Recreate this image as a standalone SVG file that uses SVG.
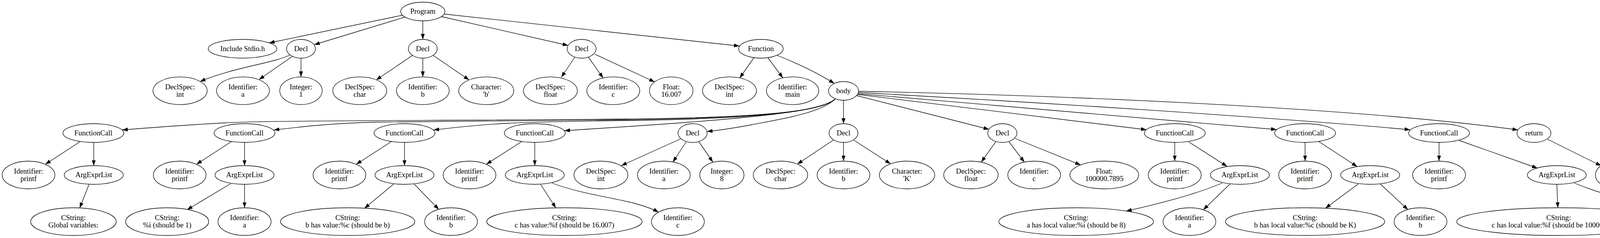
<svg xmlns="http://www.w3.org/2000/svg" width="4417" height="610" viewBox="0 0 4417 610">
<style>
ellipse{fill:#fff;stroke:#000;stroke-width:1.33}
text{font-family:"Liberation Serif","Times New Roman",serif;font-size:18.67px;text-anchor:middle;fill:#000}
#connectors path{fill:none;stroke:#000;stroke-width:1.33;marker-end:url(#arrow)}
</style>
<defs>
<marker id="arrow" markerUnits="userSpaceOnUse" markerWidth="14" markerHeight="10" refX="14" refY="5" orient="auto" viewBox="0 0 14 10">
<path d="M0,0 L14,5 L0,10 z" fill="#000"/>
</marker>
</defs>
<rect width="4417" height="610" fill="#fff"/>
<g id="connectors">
<path d="M1030,39 L689,110"/>
<path d="M1036,44 L804.5,114.5"/>
<path d="M1082.4,53.5 L1082.4,101"/>
<path d="M1130,42.5 L1454.5,116.5"/>
<path d="M1137,36 L1893,118"/>
<path d="M742,141 C700,162 600,172 512,209"/>
<path d="M749,144 L663,204"/>
<path d="M770.5,149 L770.5,197"/>
<path d="M1056,142 L963,205"/>
<path d="M1082.4,149 L1082.4,197"/>
<path d="M1109,142 L1201,205"/>
<path d="M1472,146 L1437,198"/>
<path d="M1506,146 L1544,200"/>
<path d="M1523,139 L1676,210"/>
<path d="M1930,148 L1893.5,200"/>
<path d="M1966,148 L2004,199.5"/>
<path d="M1990,142 C2040,162 2090,185 2136,214"/>
<path d="M2159.4,257 L2159.4,317"/>
<path d="M2193,245 L2532,331.5"/>
<path d="M2195,242 L2935,332.5"/>
<path d="M2196,240 L3268,332"/>
<path d="M2197,237 C2650,262 3250,300 3610,332.5"/>
<path d="M2197,234 C2800,246 3500,280 3886,333"/>
<path d="M2138,253 C2105,290 1900,302 1600,305 C1100,310 700,308 574,315 C480,320 400,326 313,333"/>
<path d="M2138,253 C2105,290 1900,303 1600,307 C1300,310 1100,311 960,313 C850,316 780,324 701,333"/>
<path d="M2138,253 C2105,290 1900,305 1600,309 C1450,311 1350,313 1300,316 C1220,320 1165,327 1110,333"/>
<path d="M2136,256 C2100,280 2000,295 1766,313 C1650,322 1550,328 1445,335"/>
<path d="M2138,254 C2100,290 2000,305 1923,320 C1880,328 1850,333 1810,337"/>
<path d="M206,362.5 L116,421"/>
<path d="M240,365 L240,424.5"/>
<path d="M228,472.5 L204,533"/>
<path d="M593,362.5 L503,421"/>
<path d="M626,365 L626,424.5"/>
<path d="M590,471 L479,537.5"/>
<path d="M626,472.5 L626,532.5"/>
<path d="M1002.5,362.5 L912,421"/>
<path d="M1035.5,365 L1035.5,424.5"/>
<path d="M1008,471.5 L933,534"/>
<path d="M1060,471.5 L1123.5,537"/>
<path d="M1336,362.5 L1245,421"/>
<path d="M1369,365 L1369,424.5"/>
<path d="M1384,472.5 L1423,533"/>
<path d="M1413,469 C1480,495 1560,505 1620,520 C1650,528 1670,535 1686,544"/>
<path d="M1742,356 L1590.5,424.5"/>
<path d="M1757,363 L1722.5,415.5"/>
<path d="M1789,363 L1825,415.5"/>
<path d="M2134,358.5 L2041,420.8"/>
<path d="M2159.4,365 L2159.4,412.5"/>
<path d="M2186,359.5 L2280,420"/>
<path d="M2549,363.5 L2512,415.5"/>
<path d="M2583,363.5 L2622.5,415.5"/>
<path d="M2599,355 L2766.5,422.8"/>
<path d="M3007.4,365 L3007.4,412.5"/>
<path d="M3043,363.5 L3141.5,426.6"/>
<path d="M3129,469 C3080,490 3000,515 2883,541"/>
<path d="M3149,471.5 L3080.5,537.5"/>
<path d="M3341,365 L3341,412.5"/>
<path d="M3375.5,362.5 L3474.5,427"/>
<path d="M3477,471.5 L3393,533.8"/>
<path d="M3533.5,471.5 L3604.5,537.5"/>
<path d="M3684,365 L3684,412.5"/>
<path d="M3735.5,360 L3936,431"/>
<path d="M3985.5,472.5 L3988,532.5"/>
<path d="M4030,469 C4080,490 4130,505 4200,518 C4240,526 4270,533 4294,544"/>
<path d="M3962,357 L4099,425"/>
</g>
<g id="program"><ellipse cx="1082.4" cy="29.5" rx="56.6" ry="24"/><text x="1082.4" y="35.1">Program</text></g>
<g id="include"><ellipse cx="621" cy="125" rx="87.8" ry="24"/><text x="621" y="130.6">Include Stdio.h</text></g>
<g id="decl1"><ellipse cx="770.5" cy="125" rx="37" ry="24"/><text x="770.5" y="130.6">Decl</text></g>
<g id="decl2"><ellipse cx="1082.4" cy="125" rx="37" ry="24"/><text x="1082.4" y="130.6">Decl</text></g>
<g id="decl3"><ellipse cx="1489" cy="125" rx="37" ry="24"/><text x="1489" y="130.6">Decl</text></g>
<g id="function"><ellipse cx="1948" cy="125" rx="57" ry="24"/><text x="1948" y="130.6">Function</text></g>
<g id="declspec_int1"><ellipse cx="461" cy="232.6" rx="69.4" ry="35.5"/><text x="461" y="228.9">DeclSpec:</text><text x="461" y="247.6">int</text></g>
<g id="ident_a1"><ellipse cx="622" cy="232.6" rx="67.7" ry="35.5"/><text x="622" y="228.9">Identifier:</text><text x="622" y="247.6">a</text></g>
<g id="integer_1"><ellipse cx="770.5" cy="232.6" rx="54.3" ry="35.5"/><text x="770.5" y="228.9">Integer:</text><text x="770.5" y="247.6">1</text></g>
<g id="declspec_char1"><ellipse cx="921" cy="232.6" rx="69" ry="35.5"/><text x="921" y="228.9">DeclSpec:</text><text x="921" y="247.6">char</text></g>
<g id="ident_b1"><ellipse cx="1082.4" cy="232.6" rx="67.5" ry="35.5"/><text x="1082.4" y="228.9">Identifier:</text><text x="1082.4" y="247.6">b</text></g>
<g id="char_b"><ellipse cx="1244.8" cy="232.6" rx="70.5" ry="35.5"/><text x="1244.8" y="228.9">Character:</text><text x="1244.8" y="247.6">'b'</text></g>
<g id="declspec_float1"><ellipse cx="1409" cy="232.6" rx="69" ry="35.5"/><text x="1409" y="228.9">DeclSpec:</text><text x="1409" y="247.6">float</text></g>
<g id="ident_c1"><ellipse cx="1570" cy="232.6" rx="67.7" ry="35.5"/><text x="1570" y="228.9">Identifier:</text><text x="1570" y="247.6">c</text></g>
<g id="float_16"><ellipse cx="1718.4" cy="232.6" rx="55.7" ry="35.5"/><text x="1718.4" y="228.9">Float:</text><text x="1718.4" y="247.6">16.007</text></g>
<g id="declspec_int2"><ellipse cx="1867.5" cy="232.6" rx="69" ry="35.5"/><text x="1867.5" y="228.9">DeclSpec:</text><text x="1867.5" y="247.6">int</text></g>
<g id="ident_main"><ellipse cx="2029" cy="232.6" rx="67" ry="35.5"/><text x="2029" y="228.9">Identifier:</text><text x="2029" y="247.6">main</text></g>
<g id="body"><ellipse cx="2159.4" cy="233" rx="38.5" ry="24"/><text x="2159.4" y="238.6">body</text></g>
<g id="fcall1"><ellipse cx="239" cy="341" rx="77.9" ry="24"/><text x="239" y="346.6">FunctionCall</text></g>
<g id="fcall2"><ellipse cx="626" cy="341" rx="77.9" ry="24"/><text x="626" y="346.6">FunctionCall</text></g>
<g id="fcall3"><ellipse cx="1035.5" cy="341" rx="77.9" ry="24"/><text x="1035.5" y="346.6">FunctionCall</text></g>
<g id="fcall4"><ellipse cx="1369" cy="341" rx="77.9" ry="24"/><text x="1369" y="346.6">FunctionCall</text></g>
<g id="decl4"><ellipse cx="1773" cy="341" rx="37.3" ry="24"/><text x="1773" y="346.6">Decl</text></g>
<g id="decl5"><ellipse cx="2159.4" cy="341" rx="37" ry="24"/><text x="2159.4" y="346.6">Decl</text></g>
<g id="decl6"><ellipse cx="2566" cy="341" rx="37.3" ry="24"/><text x="2566" y="346.6">Decl</text></g>
<g id="fcall5"><ellipse cx="3007.4" cy="341" rx="77.9" ry="24"/><text x="3007.4" y="346.6">FunctionCall</text></g>
<g id="fcall6"><ellipse cx="3341" cy="341" rx="77.9" ry="24"/><text x="3341" y="346.6">FunctionCall</text></g>
<g id="fcall7"><ellipse cx="3684" cy="341" rx="77.9" ry="24"/><text x="3684" y="346.6">FunctionCall</text></g>
<g id="return"><ellipse cx="3927" cy="341" rx="43.5" ry="24"/><text x="3927" y="346.6">return</text></g>
<g id="printf1"><ellipse cx="73" cy="448.5" rx="67.5" ry="35.5"/><text x="73" y="444.8">Identifier:</text><text x="73" y="463.5">printf</text></g>
<g id="args1"><ellipse cx="240" cy="448.5" rx="75.5" ry="24"/><text x="240" y="454.1">ArgExprList</text></g>
<g id="printf2"><ellipse cx="460" cy="448.5" rx="67.5" ry="35.5"/><text x="460" y="444.8">Identifier:</text><text x="460" y="463.5">printf</text></g>
<g id="args2"><ellipse cx="626" cy="448.5" rx="75.5" ry="24"/><text x="626" y="454.1">ArgExprList</text></g>
<g id="printf3"><ellipse cx="869" cy="448.5" rx="67.5" ry="35.5"/><text x="869" y="444.8">Identifier:</text><text x="869" y="463.5">printf</text></g>
<g id="args3"><ellipse cx="1035.5" cy="448.5" rx="75.5" ry="24"/><text x="1035.5" y="454.1">ArgExprList</text></g>
<g id="printf4"><ellipse cx="1202" cy="448.5" rx="67.5" ry="35.5"/><text x="1202" y="444.8">Identifier:</text><text x="1202" y="463.5">printf</text></g>
<g id="args4"><ellipse cx="1369" cy="448.5" rx="75.5" ry="24"/><text x="1369" y="454.1">ArgExprList</text></g>
<g id="declspec_int3"><ellipse cx="1538.4" cy="448.5" rx="69" ry="35.5"/><text x="1538.4" y="444.8">DeclSpec:</text><text x="1538.4" y="463.5">int</text></g>
<g id="ident_a2"><ellipse cx="1699.5" cy="448.5" rx="67.5" ry="35.5"/><text x="1699.5" y="444.8">Identifier:</text><text x="1699.5" y="463.5">a</text></g>
<g id="integer_8"><ellipse cx="1848" cy="448.5" rx="56.6" ry="35.5"/><text x="1848" y="444.8">Integer:</text><text x="1848" y="463.5">8</text></g>
<g id="declspec_char2"><ellipse cx="1998" cy="448.5" rx="69.6" ry="35.5"/><text x="1998" y="444.8">DeclSpec:</text><text x="1998" y="463.5">char</text></g>
<g id="ident_b2"><ellipse cx="2159.4" cy="448.5" rx="67.5" ry="35.5"/><text x="2159.4" y="444.8">Identifier:</text><text x="2159.4" y="463.5">b</text></g>
<g id="char_k"><ellipse cx="2322" cy="448.5" rx="70.8" ry="35.5"/><text x="2322" y="444.8">Character:</text><text x="2322" y="463.5">'K'</text></g>
<g id="declspec_float2"><ellipse cx="2485.6" cy="448.5" rx="69.6" ry="35.5"/><text x="2485.6" y="444.8">DeclSpec:</text><text x="2485.6" y="463.5">float</text></g>
<g id="ident_c2"><ellipse cx="2647.5" cy="448.5" rx="67.5" ry="35.5"/><text x="2647.5" y="444.8">Identifier:</text><text x="2647.5" y="463.5">c</text></g>
<g id="float_100000"><ellipse cx="2827" cy="448.5" rx="88" ry="35.5"/><text x="2827" y="444.8">Float:</text><text x="2827" y="463.5">100000.7895</text></g>
<g id="printf5"><ellipse cx="3007.4" cy="448.5" rx="67.7" ry="35.5"/><text x="3007.4" y="444.8">Identifier:</text><text x="3007.4" y="463.5">printf</text></g>
<g id="args5"><ellipse cx="3174" cy="448.5" rx="75.5" ry="24"/><text x="3174" y="454.1">ArgExprList</text></g>
<g id="printf6"><ellipse cx="3341" cy="448.5" rx="67.5" ry="35.5"/><text x="3341" y="444.8">Identifier:</text><text x="3341" y="463.5">printf</text></g>
<g id="args6"><ellipse cx="3507.6" cy="448.5" rx="75.5" ry="24"/><text x="3507.6" y="454.1">ArgExprList</text></g>
<g id="printf7"><ellipse cx="3684" cy="448.5" rx="67.7" ry="35.5"/><text x="3684" y="444.8">Identifier:</text><text x="3684" y="463.5">printf</text></g>
<g id="args7"><ellipse cx="3985.5" cy="448.5" rx="75.3" ry="24"/><text x="3985.5" y="454.1">ArgExprList</text></g>
<g id="integer_0"><ellipse cx="4140.8" cy="448.5" rx="56.5" ry="35.5"/><text x="4140.8" y="444.8">Integer:</text><text x="4140.8" y="463.5">0</text></g>
<g id="cstring1"><ellipse cx="188" cy="568" rx="109.5" ry="35.5"/><text x="188" y="564.3">CString:</text><text x="188" y="583">Global variables:</text></g>
<g id="cstring2"><ellipse cx="428" cy="568" rx="106.4" ry="35.5"/><text x="428" y="564.3">CString:</text><text x="428" y="583">%i (should be 1)</text></g>
<g id="ident_a3"><ellipse cx="626" cy="568" rx="68" ry="35.5"/><text x="626" y="564.3">Identifier:</text><text x="626" y="583">a</text></g>
<g id="cstring3"><ellipse cx="890" cy="568" rx="172" ry="35.5"/><text x="890" y="564.3">CString:</text><text x="890" y="583">b has value:%c (should be b)</text></g>
<g id="ident_b3"><ellipse cx="1154.6" cy="568" rx="67.5" ry="35.5"/><text x="1154.6" y="564.3">Identifier:</text><text x="1154.6" y="583">b</text></g>
<g id="cstring4"><ellipse cx="1445" cy="568" rx="199" ry="35.5"/><text x="1445" y="564.3">CString:</text><text x="1445" y="583">c has value:%f (should be 16.007)</text></g>
<g id="ident_c3"><ellipse cx="1735.4" cy="568" rx="67.7" ry="35.5"/><text x="1735.4" y="564.3">Identifier:</text><text x="1735.4" y="583">c</text></g>
<g id="cstring5"><ellipse cx="2755" cy="568" rx="198" ry="35.5"/><text x="2755" y="564.3">CString:</text><text x="2755" y="583">a has local value:%i (should be 8)</text></g>
<g id="ident_a4"><ellipse cx="3045" cy="568" rx="67.5" ry="35.5"/><text x="3045" y="564.3">Identifier:</text><text x="3045" y="583">a</text></g>
<g id="cstring6"><ellipse cx="3341" cy="568" rx="204" ry="35.5"/><text x="3341" y="564.3">CString:</text><text x="3341" y="583">b has local value:%c (should be K)</text></g>
<g id="ident_b4"><ellipse cx="3636.5" cy="568" rx="67.5" ry="35.5"/><text x="3636.5" y="564.3">Identifier:</text><text x="3636.5" y="583">b</text></g>
<g id="cstring7"><ellipse cx="3990" cy="568" rx="261" ry="35.5"/><text x="3990" y="564.3">CString:</text><text x="3990" y="583">c has local value:%f (should be 100000.7895)</text></g>
<g id="ident_c4"><ellipse cx="4343.5" cy="568" rx="67.9" ry="35.5"/><text x="4343.5" y="564.3">Identifier:</text><text x="4343.5" y="583">c</text></g>
</svg>
